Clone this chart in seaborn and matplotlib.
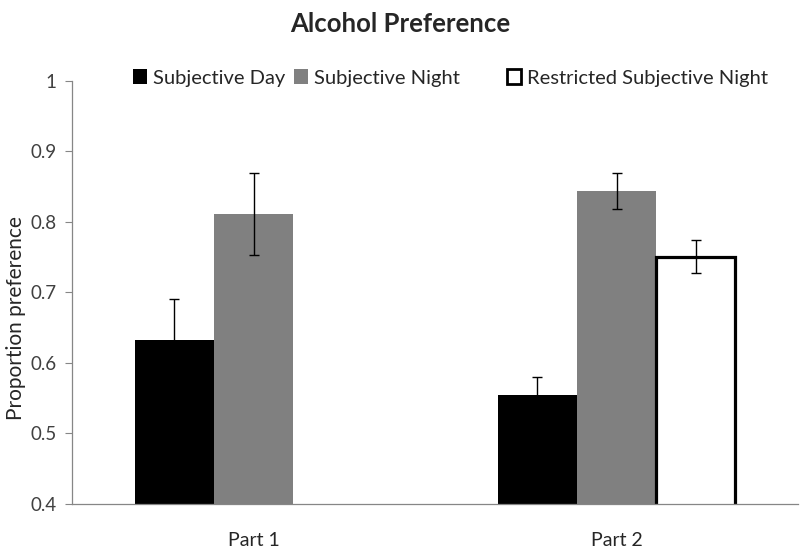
import pandas as pd
import numpy as np
import seaborn as sns
import matplotlib as mpl
from matplotlib import pyplot as plt
from matplotlib.patches import Patch

parts = ['Part 1', 'Part 1', 'Part 2', 'Part 2', 'Part 2']
conditions = ['Subjective Day', 'Subjective Night',
              'Subjective Day', 'Subjective Night', 'Restricted Subjective Night']
preference = [0.633, 0.811, 0.554, 0.844, 0.751]
sem = [0.058, 0.058, 0.026, 0.025, 0.024]

hue_order = ['Subjective Day', 'Subjective Night', 'Restricted Subjective Night']
colors = ['#000000', '#808080', '#ffffff']

df = pd.DataFrame({'part': parts, 'condition': conditions,
                   'preference': preference, 'sem': sem})

sns.set_style('white')
plt.rcParams['font.family'] = ['Lato', 'DejaVu Sans']

fig = plt.figure(figsize=(8, 5.53), dpi=100)
ax = fig.add_axes([0.09, 0.0886, 0.9075, 0.765])

sns.barplot(data=df, x='part', y='preference', hue='condition',
            hue_order=hue_order, palette=colors, width=0.653,
            errorbar=None, saturation=1, linewidth=0, legend=False, ax=ax)

# open bar gets a thick black edge; error bars added by hand
for cont, cond in zip(ax.containers, hue_order):
    sub = df[df['condition'] == cond]
    good = [b for b in cont if np.isfinite(b.get_height())]
    if cond == 'Restricted Subjective Night':
        for b in good:
            b.set_edgecolor('black')
            b.set_linewidth(2.3)
    xs = [b.get_x() + b.get_width() / 2 for b in good]
    ax.errorbar(xs, sub['preference'], yerr=sub['sem'], fmt='none',
                ecolor='black', elinewidth=1, capsize=3.5, capthick=1, zorder=5)

ax.set_ylim(0.4, 1.0)
ax.set_xlim(-0.5, 1.5)
ax.set_yticks([0.4, 0.5, 0.6, 0.7, 0.8, 0.9, 1.0])
ax.set_yticklabels(['0.4', '0.5', '0.6', '0.7', '0.8', '0.9', '1'])
ax.tick_params(axis='y', direction='out', length=5, width=0.8, color='#868686',
               labelsize=13.5, labelcolor='#404040', pad=6, left=True)
ax.tick_params(axis='x', length=0, labelsize=14, pad=20)
ax.set_xlabel('')
ax.set_ylabel('Proportion preference', fontsize=15)
ax.yaxis.set_label_coords(-0.064, 0.44)
sns.despine(ax=ax)
for s in ['left', 'bottom']:
    ax.spines[s].set_color('#868686')
    ax.spines[s].set_linewidth(0.9)

# legend entries sit at their own spots, like the original
legend_x = [133, 294, 507]
for cond, col, lx in zip(hue_order, colors, legend_x):
    lw = 2 if col == '#ffffff' else 0
    h = Patch(facecolor=col, edgecolor='black', linewidth=lw)
    leg = fig.legend([h], [cond], loc='center left',
                     bbox_to_anchor=(lx / 800, 1 - 78 / 553), frameon=False,
                     fontsize=14.5, handlelength=0.7, handleheight=0.7,
                     handletextpad=0.3, borderpad=0, borderaxespad=0)

fig.suptitle('Alcohol Preference', fontsize=18.5, fontweight='bold', y=0.978)
fig.savefig('out.png', dpi=100)
